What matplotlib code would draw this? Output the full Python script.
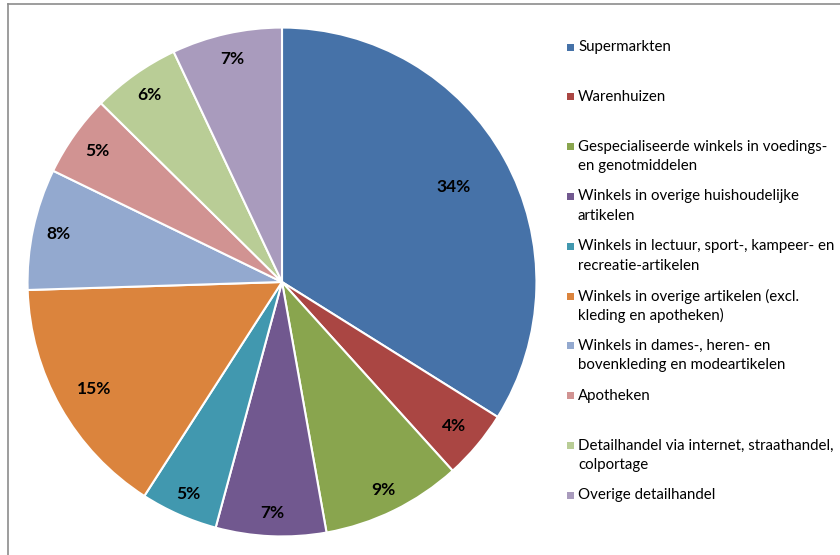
import numpy as np
import matplotlib
matplotlib.use("Agg")
import matplotlib.pyplot as plt
from matplotlib.lines import Line2D
from matplotlib.patches import Rectangle

plt.rcParams['font.family'] = ['Lato', 'DejaVu Sans']

# share per category (percent)
categories = [
    "Supermarkten",
    "Warenhuizen",
    "Gespecialiseerde winkels in voedings-\nen genotmiddelen",
    "Winkels in overige huishoudelijke\nartikelen",
    "Winkels in lectuur, sport-, kampeer- en\nrecreatie-artikelen",
    "Winkels in overige artikelen (excl.\nkleding en apotheken)",
    "Winkels in dames-, heren- en\nbovenkleding en modeartikelen",
    "Apotheken",
    "Detailhandel via internet, straathandel,\ncolportage",
    "Overige detailhandel",
]
shares = [33.9, 4.4, 8.9, 7.0, 4.9, 15.4, 7.7, 5.2, 5.6, 7.0]
colors = ["#4672A8", "#AA4643", "#89A54E", "#71588F", "#4198AF",
          "#DB843D", "#93A9CF", "#D19392", "#B9CD96", "#A99BBD"]
# radial position of each percentage label (fraction of radius)
label_dist = [0.77, 0.88, 0.91, 0.91, 0.91, 0.85, 0.90, 0.89, 0.90, 0.90]

W, H = 840, 555
fig = plt.figure(figsize=(W / 100, H / 100), dpi=100)

# pie axes: center (282, 282) px, radius ~255 px
r_px = 257
cx, cy = 282, 282
ax = fig.add_axes([(cx - r_px) / W, (H - cy - r_px) / H, 2 * r_px / W, 2 * r_px / H])

wedges, _ = ax.pie(shares, colors=colors, startangle=90, counterclock=False,
                   wedgeprops=dict(edgecolor="white", linewidth=1.5))
ax.set_xlim(-1.01, 1.01)
ax.set_ylim(-1.01, 1.01)
ax.set_aspect("equal")

total = sum(shares)
for w, s, d in zip(wedges, shares, label_dist):
    ang = np.deg2rad((w.theta1 + w.theta2) / 2)
    ax.text(d * np.cos(ang), d * np.sin(ang), f"{s / total * 100:.0f}%",
            ha="center", va="center", fontsize=12.5, fontweight="bold", color="black")

# legend drawn by hand: square aligned with first line of each entry
leg_top = 47
leg_step = 49.8
line_gap = 19.5
for i, (lab, col) in enumerate(zip(categories, colors)):
    y = leg_top + i * leg_step
    fig.patches.append(Rectangle((567 / W, 1 - (y + 3.5) / H), 7 / W, 7 / H,
                                 transform=fig.transFigure, facecolor=col,
                                 edgecolor="none"))
    for j, line in enumerate(lab.split("\n")):
        fig.text(578 / W, 1 - (y + j * line_gap) / H, line, ha="left", va="center",
                 fontsize=10.8, color="black")

# chart frame (only left and top edges fall inside the picture)
fig.add_artist(Line2D([8 / W, 8 / W], [0, 1 - 3.5 / H], transform=fig.transFigure,
                      color="#8C8C8C", linewidth=1.2))
fig.add_artist(Line2D([8 / W, 1], [1 - 3.5 / H, 1 - 3.5 / H], transform=fig.transFigure,
                      color="#8C8C8C", linewidth=1.2))

fig.savefig("out.png", dpi=100, facecolor="white")
